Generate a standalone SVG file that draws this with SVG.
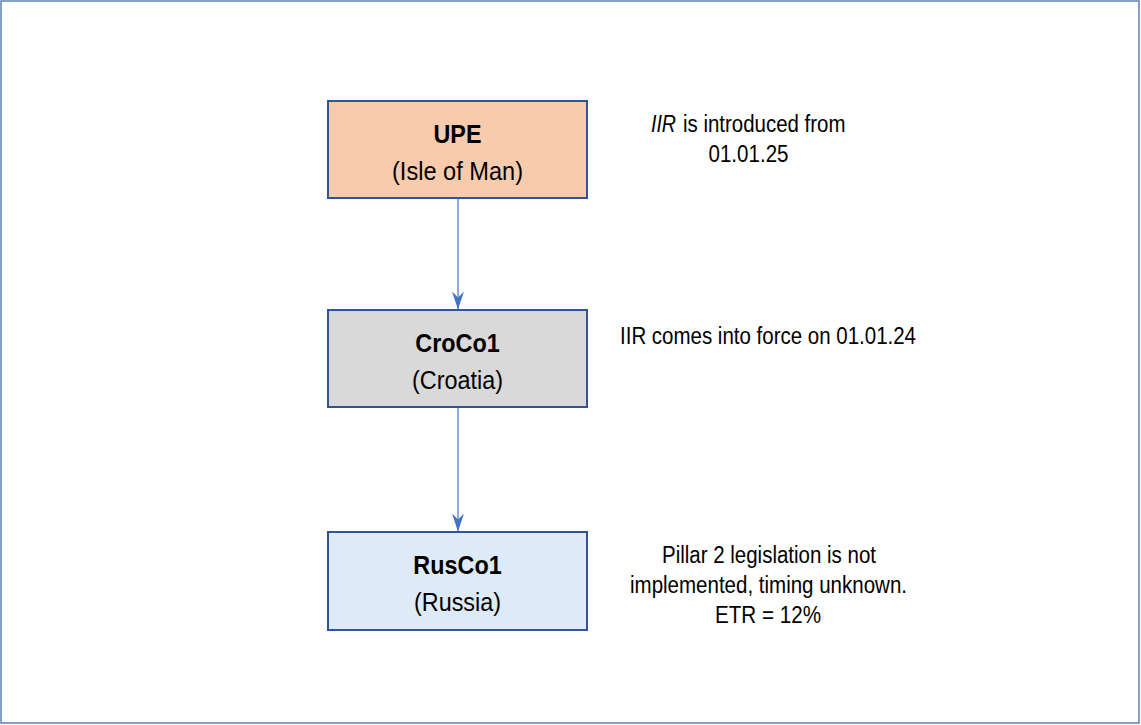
<svg xmlns="http://www.w3.org/2000/svg" width="1141" height="725" viewBox="0 0 1141 725">
<defs>
<style>
.box{stroke:#2f5597;stroke-width:2}
.t{font-family:"Liberation Sans",Arial,sans-serif;fill:#000;text-anchor:middle}
.s{text-anchor:start}
.b{font-size:26px;font-weight:bold}
.n{font-size:26px}
.a{font-size:23px}
.c{stroke:#4472c4;stroke-width:1.2;fill:none}
</style>
<marker id="ah" markerWidth="18" markerHeight="12" viewBox="0 0 18 12" refX="17.5" refY="6" orient="auto" markerUnits="userSpaceOnUse">
<path d="M0,0 L18,6 L0,12 L6,6 Z" fill="#4472c4"/>
</marker>
</defs>
<rect x="1" y="1" width="1138" height="722" fill="#fff" stroke="#5b84b1" stroke-width="1.5"/>
<g id="connectors">
<line class="c" x1="458" y1="198" x2="458" y2="309" marker-end="url(#ah)"/>
<line class="c" x1="458" y1="407" x2="458" y2="531" marker-end="url(#ah)"/>
</g>
<g id="upe">
<rect class="box" x="328" y="101" width="259" height="97" fill="#f8cbad"/>
<text class="t b" x="457.5" y="143" textLength="48" lengthAdjust="spacingAndGlyphs">UPE</text>
<text class="t n" x="457.5" y="180" textLength="131" lengthAdjust="spacingAndGlyphs">(Isle of Man)</text>
</g>
<g id="croco1">
<rect class="box" x="328" y="310" width="259" height="97" fill="#d9d9d9"/>
<text class="t b" x="457.5" y="352" textLength="84.5" lengthAdjust="spacingAndGlyphs">CroCo1</text>
<text class="t n" x="457.5" y="389" textLength="91" lengthAdjust="spacingAndGlyphs">(Croatia)</text>
</g>
<g id="rusco1">
<rect class="box" x="328" y="532" width="259" height="98" fill="#deebf7"/>
<text class="t b" x="457.5" y="574" textLength="88.4" lengthAdjust="spacingAndGlyphs">RusCo1</text>
<text class="t n" x="457.5" y="611" textLength="87" lengthAdjust="spacingAndGlyphs">(Russia)</text>
</g>
<g id="note-upe">
<text class="t a s" x="651" y="132" font-style="italic" textLength="25" lengthAdjust="spacingAndGlyphs">IIR</text>
<text class="t a s" x="683" y="132" textLength="162.5" lengthAdjust="spacingAndGlyphs">is introduced from</text>
<text class="t a" x="748.5" y="162" textLength="80" lengthAdjust="spacingAndGlyphs">01.01.25</text>
</g>
<g id="note-croco1">
<text class="t a" x="768" y="344" textLength="296" lengthAdjust="spacingAndGlyphs">IIR comes into force on 01.01.24</text>
</g>
<g id="note-rusco1">
<text class="t a" x="769" y="563" textLength="214" lengthAdjust="spacingAndGlyphs">Pillar 2 legislation is not</text>
<text class="t a" x="768.5" y="593" textLength="277" lengthAdjust="spacingAndGlyphs">implemented, timing unknown.</text>
<text class="t a" x="768" y="623" textLength="106" lengthAdjust="spacingAndGlyphs">ETR = 12%</text>
</g>
</svg>
